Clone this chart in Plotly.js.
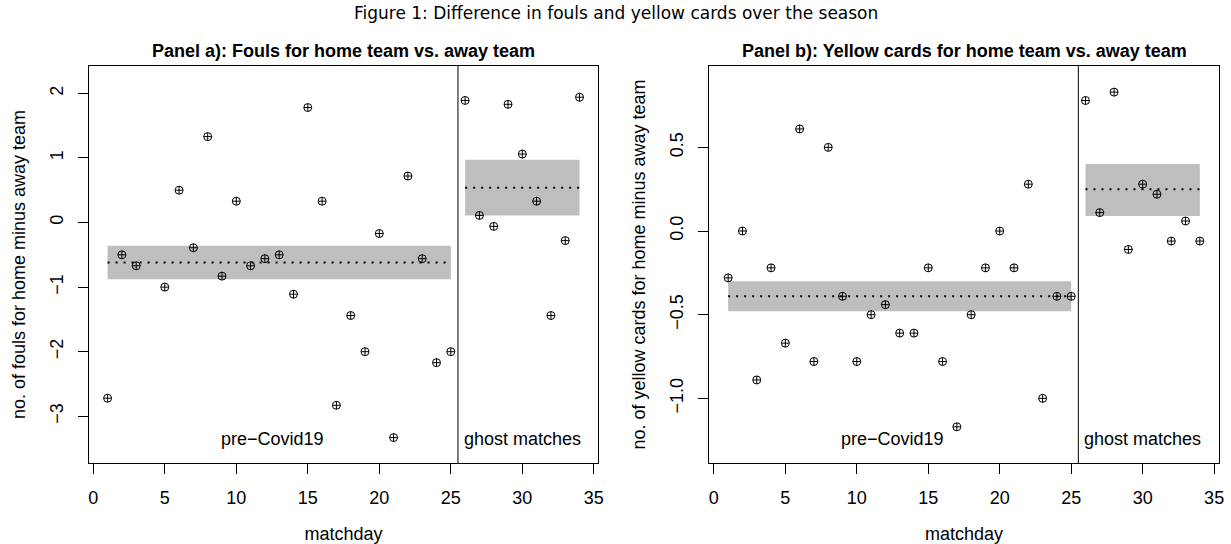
<!DOCTYPE html>
<html><head><meta charset="utf-8">
<script src="https://cdn.plot.ly/plotly-3.0.1.min.js"></script>
<style>html,body{margin:0;padding:0;background:#fff}#chart{width:1231px;height:544px}</style>
</head><body><div id="chart"></div>
<script>
// ---- data ----
const matchdays = [1,2,3,4,5,6,7,8,9,10,11,12,13,14,15,16,17,18,19,20,21,22,23,24,25,26,27,28,29,30,31,32,33,34];
// matchday 4 lies above the visible y-range in panel a (not visible in the reference)
const foulsDiff = [-2.72,-0.50,-0.67,null,-1.00,0.50,-0.39,1.33,-0.83,0.33,-0.67,-0.56,-0.50,-1.11,1.78,0.33,-2.83,-1.44,-2.00,-0.17,-3.33,0.72,-0.56,-2.17,-2.00,1.89,0.11,-0.06,1.83,1.06,0.33,-1.44,-0.28,1.94];
const yellowDiff = [-0.28,0.00,-0.89,-0.22,-0.67,0.61,-0.78,0.50,-0.39,-0.78,-0.50,-0.44,-0.61,-0.61,-0.22,-0.78,-1.17,-0.50,-0.22,0.00,-0.22,0.28,-1.00,-0.39,-0.39,0.78,0.11,0.83,-0.11,0.28,0.22,-0.06,0.06,-0.06];

const periodNames = ["pre\u2212Covid19", "ghost matches"];
const periodStart = [1, 26];
const periodEnd = [25, 34];
const periodLabelX = [12.5, 30];
const periodSplit = 25.5;

const foulsMean = [-0.62, 0.54];
const foulsLow = [-0.88, 0.11];
const foulsHigh = [-0.36, 0.97];
const yellowMean = [-0.39, 0.25];
const yellowLow = [-0.48, 0.09];
const yellowHigh = [-0.30, 0.40];

const xTicks = [0,5,10,15,20,25,30,35];
const foulsTicks = [-3,-2,-1,0,1,2];
const yellowTicks = [-1.0,-0.5,0.0,0.5];

const figTitle = "Figure 1: Difference in fouls and yellow cards over the season";
const panelTitles = ["Panel a): Fouls for home team vs. away team", "Panel b): Yellow cards for home team vs. away team"];
const yTitles = ["no. of fouls for home minus away team", "no. of yellow cards for home minus away team"];
const xTitle = "matchday";

// ---- build ----
const F = "Liberation Sans, Arial, sans-serif";
const traces = [];
const shapes = [];
const annotations = [];
const panels = [
  {vals: foulsDiff, mean: foulsMean, lo: foulsLow, hi: foulsHigh, xa: 'x', ya: 'y'},
  {vals: yellowDiff, mean: yellowMean, lo: yellowLow, hi: yellowHigh, xa: 'x2', ya: 'y2'}
];
panels.forEach((p, i) => {
  for (let k = 0; k < periodNames.length; k++) {
    shapes.push({type:'rect', xref:p.xa, yref:p.ya, x0:periodStart[k], x1:periodEnd[k], y0:p.lo[k], y1:p.hi[k],
      fillcolor:'#bebebe', line:{width:0}, layer:'below'});
    traces.push({type:'scatter', mode:'lines', xaxis:p.xa, yaxis:p.ya,
      x:[periodStart[k], periodEnd[k]], y:[p.mean[k], p.mean[k]],
      line:{color:'black', width:2, dash:'2px,6px'}, hoverinfo:'skip', showlegend:false});
    annotations.push({xref:p.xa, yref:p.ya + ' domain', x:periodLabelX[k], y:0.06, text:periodNames[k],
      showarrow:false, font:{family:F, size:18, color:'black'}, xanchor:'center', yanchor:'middle'});
  }
  shapes.push({type:'line', xref:p.xa, yref:p.ya + ' domain', x0:periodSplit, x1:periodSplit, y0:0, y1:1,
    line:{color:'black', width:1}});
  traces.push({type:'scatter', mode:'markers', xaxis:p.xa, yaxis:p.ya, x:matchdays, y:p.vals,
    marker:{symbol:'circle-cross-open', size:8, color:'black', line:{width:1, color:'black'}}, showlegend:false});
});

const xDomA = [88.7/1231, 598.4/1231];
const xDomB = [709.3/1231, 1218.7/1231];
const yDom = [(544-463.3)/544, (544-65.7)/544];

function xAxis(dom, anchor) {
  return {domain:dom, anchor:anchor, range:[-0.32, 35.32], tickvals:xTicks, ticks:'outside', ticklen:10,
    tickcolor:'black', tickwidth:1, showline:true, mirror:true, linecolor:'black', linewidth:1,
    showgrid:false, zeroline:false, tickfont:{family:F, size:18, color:'black'}, ticklabelstandoff:8,
    title:{text:xTitle, font:{family:F, size:18, color:'black'}, standoff:22}, automargin:false};
}
function yAxis(dom, anchor, range, ticks, title, fmt) {
  return {domain:dom, anchor:anchor, range:range, tickvals:ticks, tickformat:fmt, tickangle:-90, ticks:'outside', ticklen:10,
    tickcolor:'black', tickwidth:1, showline:true, mirror:true, linecolor:'black', linewidth:1,
    showgrid:false, zeroline:false, tickfont:{family:F, size:18, color:'black'}, ticklabelstandoff:8,
    title:{text:title, font:{family:F, size:18, color:'black'}, standoff:16}, automargin:false};
}

annotations.push({xref:'paper', yref:'paper', x:0.5, y:1-13/544, text:figTitle, showarrow:false,
  font:{family:'DejaVu Sans, sans-serif', size:17, color:'black'}, xanchor:'center', yanchor:'middle'});
annotations.push({xref:'paper', yref:'paper', x:(xDomA[0]+xDomA[1])/2, y:1-51/544, text:'<b>'+panelTitles[0]+'</b>', showarrow:false,
  font:{family:F, size:18, color:'black'}, xanchor:'center', yanchor:'middle'});
annotations.push({xref:'paper', yref:'paper', x:(xDomB[0]+xDomB[1])/2, y:1-51/544, text:'<b>'+panelTitles[1]+'</b>', showarrow:false,
  font:{family:F, size:18, color:'black'}, xanchor:'center', yanchor:'middle'});

const layout = {
  width:1231, height:544, margin:{l:0, r:0, t:0, b:0}, paper_bgcolor:'white', plot_bgcolor:'white',
  showlegend:false, font:{family:F, color:'black'},
  xaxis: xAxis(xDomA, 'y'),
  yaxis: yAxis(yDom, 'x', [-3.728, 2.428], foulsTicks, yTitles[0], 'd'),
  xaxis2: xAxis(xDomB, 'y2'),
  yaxis2: yAxis(yDom, 'x2', [-1.388, 0.988], yellowTicks, yTitles[1], '.1f'),
  shapes: shapes, annotations: annotations
};
Plotly.newPlot('chart', traces, layout, {staticPlot:true, displayModeBar:false});
</script></body></html>
